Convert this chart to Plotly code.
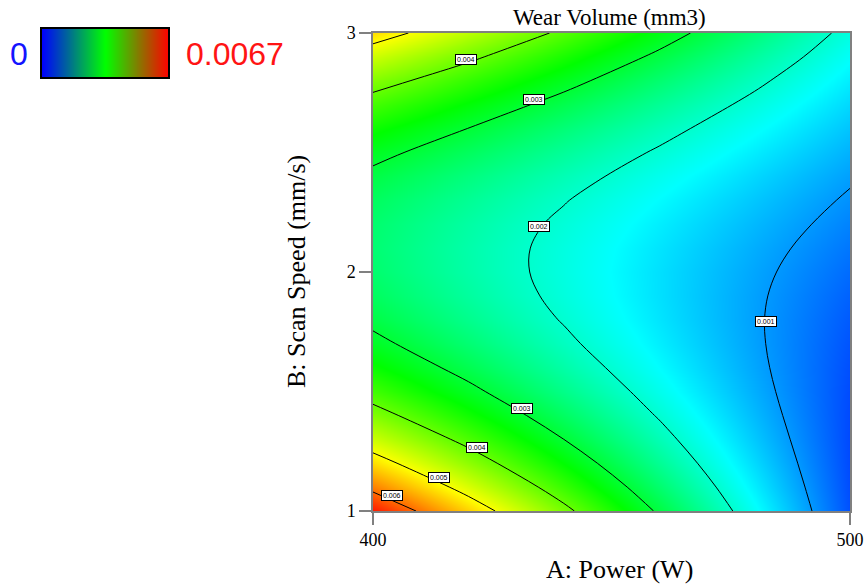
import plotly.graph_objects as go

# ---- data ----
power = [400, 420, 440, 460, 480, 500]  # A: Power (W)
scan_speed = [1.0, 1.1, 1.2, 1.3, 1.4, 1.5, 1.6, 1.7, 1.8, 1.9, 2.0,
              2.1, 2.2, 2.3, 2.4, 2.5, 2.6, 2.7, 2.8, 2.9, 3.0]  # B: Scan Speed (mm/s)
# wear volume (mm3), rows = scan speed, columns = power
wear_volume = [
    [0.006543, 0.005338, 0.004134, 0.002929, 0.001725, 0.000520],
    [0.005859, 0.004786, 0.003713, 0.002640, 0.001567, 0.000494],
    [0.005240, 0.004287, 0.003335, 0.002382, 0.001430, 0.000478],
    [0.004686, 0.003843, 0.003000, 0.002157, 0.001314, 0.000471],
    [0.004197, 0.003452, 0.002708, 0.001963, 0.001219, 0.000475],
    [0.003774, 0.003116, 0.002459, 0.001802, 0.001145, 0.000488],
    [0.003415, 0.002834, 0.002254, 0.001673, 0.001092, 0.000511],
    [0.003122, 0.002607, 0.002091, 0.001575, 0.001060, 0.000544],
    [0.002895, 0.002433, 0.001972, 0.001510, 0.001048, 0.000587],
    [0.002732, 0.002314, 0.001895, 0.001477, 0.001058, 0.000639],
    [0.002635, 0.002248, 0.001862, 0.001475, 0.001089, 0.000702],
    [0.002603, 0.002237, 0.001872, 0.001506, 0.001140, 0.000775],
    [0.002636, 0.002280, 0.001925, 0.001569, 0.001213, 0.000857],
    [0.002735, 0.002378, 0.002021, 0.001663, 0.001306, 0.000949],
    [0.002899, 0.002529, 0.002160, 0.001790, 0.001420, 0.001051],
    [0.003128, 0.002735, 0.002342, 0.001949, 0.001556, 0.001163],
    [0.003422, 0.002994, 0.002567, 0.002139, 0.001712, 0.001285],
    [0.003781, 0.003308, 0.002835, 0.002362, 0.001889, 0.001416],
    [0.004206, 0.003676, 0.003147, 0.002617, 0.002087, 0.001558],
    [0.004696, 0.004099, 0.003501, 0.002904, 0.002306, 0.001709],
    [0.005251, 0.004575, 0.003899, 0.003222, 0.002546, 0.001870],
]
color_range = [0, 0.0067]
contour_levels = ["0.006", "0.005", "0.004", "0.003", "0.004", "0.003", "0.002", "0.001"]
label_power = [404.0, 413.8, 421.7, 431.3, 419.4, 433.7, 434.8, 482.4]
label_speed = [1.064, 1.141, 1.267, 1.430, 2.890, 2.722, 2.190, 1.791]
x_ticks = [400, 500]
y_ticks = [1, 2, 3]

main_scale = [[0, "rgb(0,0,255)"], [0.25, "rgb(0,255,255)"], [0.5, "rgb(0,255,0)"],
              [0.75, "rgb(255,255,0)"], [1, "rgb(255,0,0)"]]
legend_scale = [[0, "rgb(0,0,255)"], [0.5, "rgb(0,255,0)"], [1, "rgb(255,0,0)"]]

SERIF = "Liberation Serif, Times New Roman, serif"
SANS = "Liberation Sans, Arial, sans-serif"

fig = go.Figure()
fig.add_trace(go.Contour(
    x=power, y=scan_speed, z=wear_volume,
    colorscale=main_scale, zmin=color_range[0], zmax=color_range[1],
    contours=dict(start=0.001, end=0.006, size=0.001, coloring="heatmap", showlabels=False),
    line=dict(color="black", width=1, smoothing=1),
    showscale=False, hoverinfo="skip",
))
# gradient legend bar
fig.add_trace(go.Heatmap(
    x=[0, 1], y=[0], z=[color_range], zsmooth="best",
    colorscale=legend_scale, zmin=color_range[0], zmax=color_range[1],
    showscale=False, xaxis="x2", yaxis="y2", hoverinfo="skip",
))

W, H = 865, 585
L, R, T, B = 10, 15, 20, 74
pw, ph = W - L - R, H - T - B


def px(xp):  # page x pixel -> paper fraction
    return (xp - L) / pw


def py(yp):  # page y pixel -> paper fraction
    return (H - B - yp) / ph


annotations = []
for txt, a, b in zip(contour_levels, label_power, label_speed):
    annotations.append(dict(x=a, y=b, xref="x", yref="y", text=txt, showarrow=False,
                            font=dict(family=SANS, size=7, color="black"),
                            bgcolor="white", bordercolor="black", borderwidth=1, borderpad=1))
annotations += [
    dict(x=px(609), y=py(17), xref="paper", yref="paper", text="Wear Volume (mm3)",
         showarrow=False, xanchor="center", yanchor="middle",
         font=dict(family=SERIF, size=23, color="black")),
    dict(x=px(619), y=py(585), xref="paper", yref="paper", text="A: Power (W)",
         showarrow=False, xanchor="center", yanchor="bottom", borderpad=0,
         font=dict(family=SERIF, size=26, color="black")),
    dict(x=px(296), y=py(272), xref="paper", yref="paper", text="B: Scan Speed (mm/s)",
         showarrow=False, xanchor="center", yanchor="middle", textangle=-90,
         font=dict(family=SERIF, size=26, color="black")),
    dict(x=px(19), y=py(54), xref="paper", yref="paper", text=str(color_range[0]),
         showarrow=False, xanchor="center", yanchor="middle",
         font=dict(family=SANS, size=32, color="rgb(20,20,255)")),
    dict(x=px(184), y=py(54), xref="paper", yref="paper", text=str(color_range[1]),
         showarrow=False, xanchor="left", yanchor="middle",
         font=dict(family=SANS, size=32, color="rgb(255,20,20)")),
]

fig.update_layout(
    width=W, height=H,
    margin=dict(l=L, r=R, t=T, b=B, autoexpand=False),
    paper_bgcolor="white", plot_bgcolor="white",
    showlegend=False,
    xaxis=dict(domain=[px(373), px(850)], range=[400, 500], tickvals=x_ticks,
               ticks="outside", ticklen=12, tickcolor="#808080", tickwidth=1.5,
               showline=True, linecolor="#808080", linewidth=1.5, mirror=True,
               showgrid=False, zeroline=False, automargin=False,
               tickfont=dict(family=SERIF, size=18, color="black")),
    yaxis=dict(domain=[py(511), py(33)], range=[1, 3], tickvals=y_ticks,
               ticks="outside", ticklen=12, tickcolor="#808080", tickwidth=1.5,
               showline=True, linecolor="#808080", linewidth=1.5, mirror=True,
               showgrid=False, zeroline=False, automargin=False,
               tickfont=dict(family=SERIF, size=18, color="black")),
    xaxis2=dict(domain=[px(41.5), px(168)], range=[0, 1], anchor="y2",
                showticklabels=False, ticks="", showgrid=False, zeroline=False,
                showline=True, linecolor="black", linewidth=2, mirror=True,
                fixedrange=True, automargin=False),
    yaxis2=dict(domain=[py(77), py(29)], range=[-0.5, 0.5], anchor="x2",
                showticklabels=False, ticks="", showgrid=False, zeroline=False,
                showline=True, linecolor="black", linewidth=2, mirror=True,
                fixedrange=True, automargin=False),
    annotations=annotations,
)

fig.write_html(
    "out.html",
    config={"displayModeBar": False},
    post_script="document.body.style.margin='0';document.body.style.overflow='hidden';",
)
